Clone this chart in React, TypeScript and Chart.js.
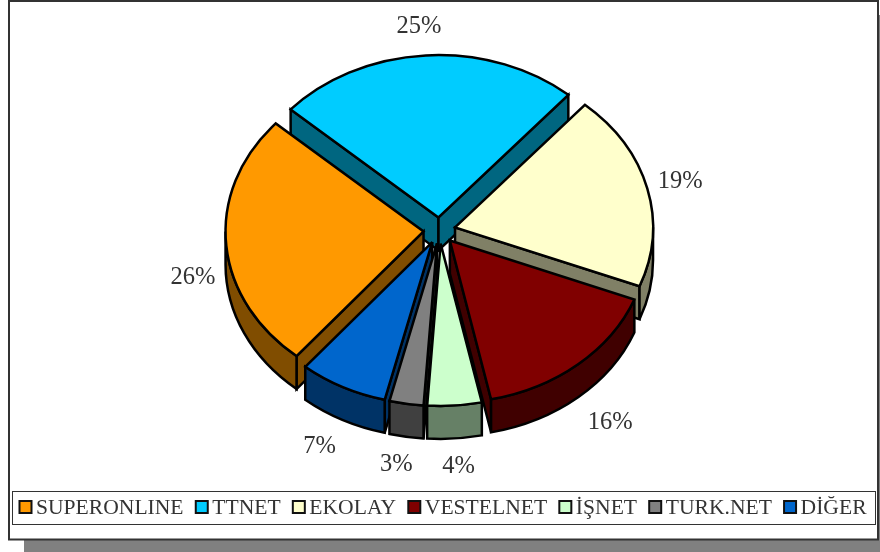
import React, { useEffect, useRef } from "react";
import Chart from "chart.js/auto";

const categories = ["SUPERONLINE", "TTNET", "EKOLAY", "VESTELNET", "İŞNET", "TURK.NET", "DİĞER"];
const shares = [25.5, 24.8, 19.53, 15.75, 4.42, 2.78, 7.22];
const percentLabels = ["26%", "25%", "19%", "16%", "4%", "3%", "7%"];
const faceColors = ["#FF9900", "#00CCFF", "#FFFFCC", "#800000", "#CCFFCC", "#808080", "#0066CC"];
const sideColors = ["#804D00", "#006680", "#808066", "#400000", "#668066", "#404040", "#003366"];

const SQUASH = 0.82;
const DEPTH = 33;
const EXPLODE = 16;
const RADIUS = 198;
const FONT = '"Liberation Serif", serif';
const STROKE = 2.5;
const labelShifts = [[-33, 34], [-7, -29], [33, -7], [32, 58], [4, 61], [-10, 61], [-23, 60]];

type Arc = { x: number; y: number; startAngle: number; endAngle: number; outerRadius: number };

function geom(a: Arc, cy: number) {
  const TAU = Math.PI * 2;
  const span = a.endAngle - a.startAngle;
  let s = a.startAngle % TAU;
  if (s < 0) s += TAU;
  const e = s + span;
  const mid = (s + e) / 2;
  return { s, e, mid, fx: a.x, fy: cy + (a.y - cy) * SQUASH, R: a.outerRadius, Ry: a.outerRadius * SQUASH };
}

const centreY = (chart: any) => (chart.chartArea.top + chart.chartArea.bottom) / 2;
const centreX = (chart: any) => (chart.chartArea.left + chart.chartArea.right) / 2;

const pie3d = {
  id: "pie3d",
  afterDatasetsUpdate(chart: any) {
    // exploded slices: every arc moves out along its own middle angle
    chart.getDatasetMeta(0).data.forEach((a: Arc) => {
      const mid = (a.startAngle + a.endAngle) / 2;
      a.x += Math.cos(mid) * EXPLODE;
      a.y += Math.sin(mid) * EXPLODE;
    });
  },
  beforeDraw(chart: any) {
    const c = chart.ctx;
    c.save();
    c.fillStyle = "#ffffff";
    c.fillRect(0, 0, 880, 552);
    c.fillStyle = "#808080";
    c.fillRect(24, 540, 856, 12);
    c.fillRect(878, 15, 2, 530);
    c.fillStyle = "#ffffff";
    c.fillRect(9, 1, 869, 539);
    c.strokeStyle = "#333333";
    c.lineWidth = 2;
    c.strokeRect(9, 1, 869, 538.5);
    c.lineWidth = 1;
    c.strokeRect(12.5, 491.5, 863, 33);
    // legend
    c.font = `21.6px ${FONT}`;
    c.textBaseline = "middle";
    c.textAlign = "left";
    let x = 19.5;
    categories.forEach((name, i) => {
      c.fillStyle = faceColors[i];
      c.fillRect(x, 501, 12, 12);
      c.strokeStyle = "#111111";
      c.lineWidth = 2;
      c.strokeRect(x, 501, 12, 12);
      c.fillStyle = "#333333";
      c.fillText(name, x + 16.5, 508);
      x += 16.5 + c.measureText(name).width + 12.2;
    });
    c.restore();
  },
  beforeDatasetsDraw(chart: any) {
    const c = chart.ctx;
    const cy = centreY(chart);
    const arcs: Arc[] = chart.getDatasetMeta(0).data;
    const order = arcs.map((a, i) => ({ g: geom(a, cy), i })).sort((p, q) => Math.sin(p.g.mid) - Math.sin(q.g.mid));
    c.save();
    c.lineWidth = STROKE;
    c.strokeStyle = "#000000";
    c.lineJoin = "miter";
    c.miterLimit = 3;
    for (const { g, i } of order) {
      c.fillStyle = sideColors[i];
      const wall = (t: number) => {
        const px = g.fx + Math.cos(t) * g.R;
        const py = g.fy + Math.sin(t) * g.Ry;
        c.beginPath();
        c.moveTo(g.fx, g.fy);
        c.lineTo(px, py);
        c.lineTo(px, py + DEPTH);
        c.lineTo(g.fx, g.fy + DEPTH);
        c.closePath();
        c.fill();
        c.stroke();
      };
      if (Math.cos(g.s) < 0) wall(g.s);
      if (Math.cos(g.e) > 0) wall(g.e);
      for (const [lo, hi] of [[0, Math.PI], [Math.PI * 2, Math.PI * 3]]) {
        const t1 = Math.max(g.s, lo);
        const t2 = Math.min(g.e, hi);
        if (t2 > t1) {
          c.beginPath();
          c.ellipse(g.fx, g.fy, g.R, g.Ry, 0, t1, t2);
          c.ellipse(g.fx, g.fy + DEPTH, g.R, g.Ry, 0, t2, t1, true);
          c.closePath();
          c.fill();
          c.stroke();
        }
      }
    }
    c.restore();
    c.save();
    c.translate(0, cy);
    c.scale(1, SQUASH);
    c.translate(0, -cy);
  },
  afterDatasetsDraw(chart: any) {
    const c = chart.ctx;
    c.restore();
    const cy = centreY(chart);
    const cx = centreX(chart);
    const arcs: Arc[] = chart.getDatasetMeta(0).data;
    c.save();
    c.lineWidth = STROKE;
    c.strokeStyle = "#000000";
    c.lineJoin = "miter";
    c.miterLimit = 3;
    arcs.forEach((a) => {
      const g = geom(a, cy);
      c.beginPath();
      c.moveTo(g.fx, g.fy);
      c.ellipse(g.fx, g.fy, g.R, g.Ry, 0, g.s, g.e);
      c.closePath();
      c.stroke();
    });
    c.font = `24.5px ${FONT}`;
    c.fillStyle = "#333333";
    c.textAlign = "center";
    c.textBaseline = "middle";
    arcs.forEach((a, i) => {
      const g = geom(a, cy);
      const rr = a.outerRadius + EXPLODE;
      const x = cx + Math.cos(g.mid) * rr + labelShifts[i][0];
      const y = cy + Math.sin(g.mid) * rr * SQUASH + labelShifts[i][1];
      c.fillText(percentLabels[i], x, y);
    });
    c.restore();
  },
};

export default function App() {
  const ref = useRef<HTMLCanvasElement>(null);
  useEffect(() => {
    const chart = new Chart(ref.current!, {
      type: "pie",
      data: {
        labels: categories,
        datasets: [
          {
            data: shares,
            backgroundColor: faceColors,
            borderWidth: 0,
            clip: false,
          } as any,
        ],
      },
      options: {
        responsive: false,
        animation: false,
        rotation: 219.9,
        radius: RADIUS,
        layout: { padding: { top: 0, left: 0, right: 1, bottom: 91 } },
        plugins: { legend: { display: false }, tooltip: { enabled: false } },
      } as any,
      plugins: [pie3d as any],
    });
    return () => chart.destroy();
  }, []);
  return (
    <div style={{ position: "fixed", left: 0, top: 0, width: 880, height: 552 }}>
      <canvas ref={ref} width={880} height={552} style={{ display: "block" }} />
    </div>
  );
}
